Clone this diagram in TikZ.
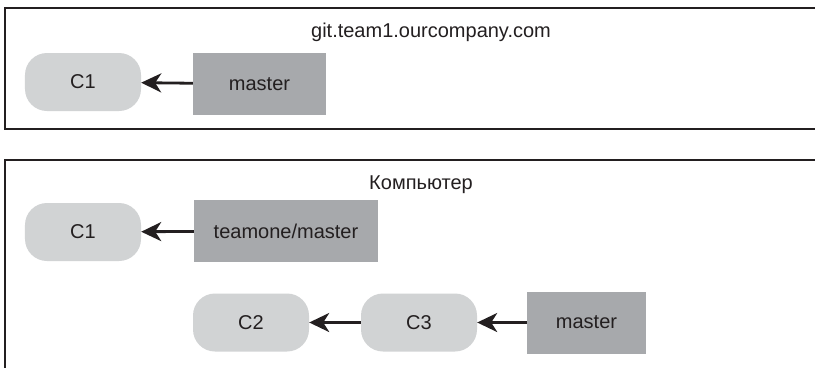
\documentclass[tikz,border=0pt]{standalone}
\usepackage{fontspec}
\setmainfont{Liberation Sans}
\usetikzlibrary{arrows.meta}
\definecolor{inkdark}{HTML}{231F20}
\definecolor{commitgray}{HTML}{D1D3D4}
\definecolor{branchgray}{HTML}{A7A9AC}
\tikzset{
  frameline/.style={draw=inkdark, line width=2.5bp},
  commit/.style={fill=commitgray, rounded corners=22bp, minimum width=116bp, minimum height=58bp, inner sep=0pt, text=inkdark, font=\fontsize{20bp}{24bp}\selectfont},
  branch/.style={fill=branchgray, minimum height=62bp, inner sep=0pt, text=inkdark, font=\fontsize{20bp}{24bp}\selectfont},
  title/.style={anchor=base, inner sep=0pt, text=inkdark, font=\fontsize{20bp}{24bp}\selectfont},
  pointer/.style={draw=inkdark, line width=2.8bp, -{Stealth[length=20bp, width=19bp, inset=6bp]}}
}
\begin{document}
\begin{tikzpicture}[x=1bp, y=-1bp]
\useasboundingbox (0,0) rectangle (815,367);
\fill[white] (0,0) rectangle (815,367);
% frames
\draw[frameline] (830,8) -- (5,8) -- (5,129) -- (830,129);
\draw[frameline] (830,160) -- (5,160) -- (5,380);
% top: server
\node[title] (servertitle) at (431,37) {git.team1.ourcompany.com};
\node[commit] (sc1) at (83,82) {C1};
\node[branch, minimum width=133bp] (smaster) at (259.5,84) {master};
\draw[pointer] (smaster) -- (sc1);
% bottom: computer
\node[title] (pctitle) at (421,189) {Компьютер};
\node[commit] (pc1) at (83,232) {C1};
\node[branch, minimum width=184bp] (ptm) at (286,231) {teamone/master};
\node[commit] (pc2) at (251,322.5) {C2};
\node[commit] (pc3) at (419,322.5) {C3};
\node[branch, minimum width=119bp] (pmaster) at (586.5,322.5) {master};
\draw[pointer] (ptm) -- (pc1);
\draw[pointer] (pc3) -- (pc2);
\draw[pointer] (pmaster) -- (pc3);
\end{tikzpicture}
\end{document}
